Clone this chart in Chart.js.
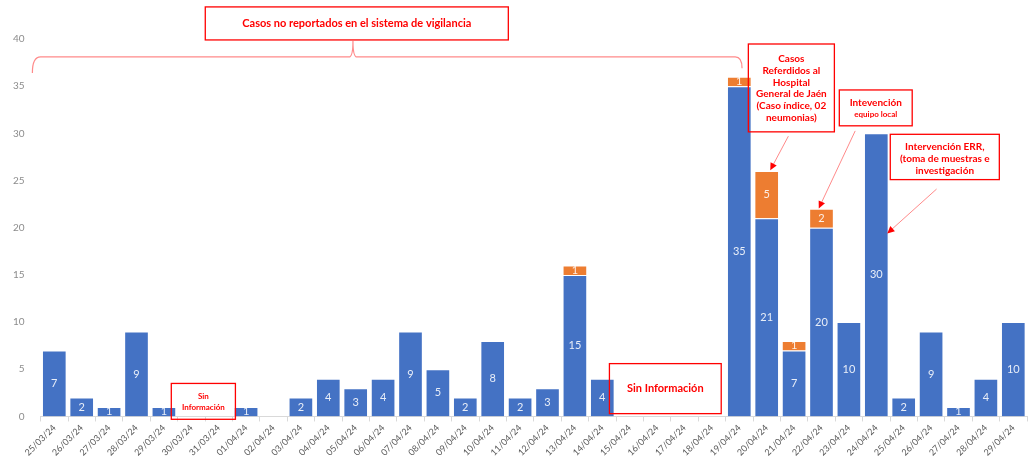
<!DOCTYPE html>
<html>
<head>
<meta charset="utf-8">
<script src="https://cdn.jsdelivr.net/npm/chart.js@4"></script>
<style>
  body { margin: 0; background: #fff; }
  #wrap { width: 1031px; height: 465px; position: relative; }
</style>
</head>
<body>
<div id="wrap"><canvas id="casosChart"></canvas></div>
<script>
// DATOS
const fechas = [
  "25/03/24", "26/03/24", "27/03/24", "28/03/24", "29/03/24", "30/03/24", "31/03/24",
  "01/04/24", "02/04/24", "03/04/24", "04/04/24", "05/04/24", "06/04/24", "07/04/24",
  "08/04/24", "09/04/24", "10/04/24", "11/04/24", "12/04/24", "13/04/24", "14/04/24",
  "15/04/24", "16/04/24", "17/04/24", "18/04/24", "19/04/24", "20/04/24", "21/04/24",
  "22/04/24", "23/04/24", "24/04/24", "25/04/24", "26/04/24", "27/04/24", "28/04/24",
  "29/04/24"
];
const casos = [7, 2, 1, 9, 1, 0, 0, 1, 0, 2, 4, 3, 4, 9, 5, 2, 8, 2, 3, 15, 4, 0, 0, 0, 0, 35, 21, 7, 20, 10, 30, 2, 9, 1, 4, 10];
const referidos = [0, 0, 0, 0, 0, 0, 0, 0, 0, 0, 0, 0, 0, 0, 0, 0, 0, 0, 0, 1, 0, 0, 0, 0, 0, 1, 5, 1, 2, 0, 0, 0, 0, 0, 0, 0];
const yTicks = [0, 5, 10, 15, 20, 25, 30, 35, 40];

const ROJO = "#ff0000";
const ROJO_SUAVE = "rgba(255,60,60,0.6)";

// ETIQUETAS DENTRO DE LAS BARRAS
const etiquetas = {
  id: "etiquetas",
  afterDatasetsDraw(chart) {
    const ctx = chart.ctx;
    ctx.save();
    ctx.font = "11px Lato";
    ctx.fillStyle = "rgba(255,255,255,0.88)";
    ctx.textAlign = "center";
    ctx.textBaseline = "middle";
    chart.data.datasets.forEach((ds, d) => {
      chart.getDatasetMeta(d).data.forEach((bar, i) => {
        const v = ds.data[i];
        if (!v) return;
        ctx.fillText(v, bar.x, (bar.y + bar.base) / 2);
      });
    });
    ctx.restore();
  }
};

// ANOTACIONES (cajas, llave y flechas)
const anotaciones = {
  id: "anotaciones",
  afterDraw(chart) {
    const ctx = chart.ctx;
    const sx = chart.scales.x, sy = chart.scales.y;
    const X = i => sx.getPixelForValue(i);
    const Y = v => sy.getPixelForValue(v);

    function caja(i0, i1, v0, v1, lineas) {
      ctx.strokeStyle = ROJO;
      ctx.lineWidth = 1.3;
      ctx.strokeRect(X(i0), Y(v0), X(i1) - X(i0), Y(v1) - Y(v0));
      ctx.fillStyle = ROJO;
      ctx.textAlign = "center";
      ctx.textBaseline = "middle";
      const cx = (X(i0) + X(i1)) / 2;
      lineas.forEach(l => {
        ctx.font = "bold " + l.size + "px Lato";
        ctx.fillText(l.t, cx, l.y);
      });
    }

    function flecha(i0, v0, i1, v1) {
      const x0 = X(i0), y0 = Y(v0), x1 = X(i1), y1 = Y(v1);
      const a = Math.atan2(y1 - y0, x1 - x0);
      ctx.strokeStyle = ROJO_SUAVE;
      ctx.fillStyle = ROJO;
      ctx.lineWidth = 1;
      ctx.beginPath();
      ctx.moveTo(x0, y0);
      ctx.lineTo(x1 - 6 * Math.cos(a), y1 - 6 * Math.sin(a));
      ctx.stroke();
      ctx.beginPath();
      ctx.moveTo(x1, y1);
      ctx.lineTo(x1 - 8 * Math.cos(a - 0.45), y1 - 8 * Math.sin(a - 0.45));
      ctx.lineTo(x1 - 8 * Math.cos(a + 0.45), y1 - 8 * Math.sin(a + 0.45));
      ctx.closePath();
      ctx.fill();
    }

    ctx.save();

    // llave
    const yl = Y(38.1);
    const xm = X(10.9);
    ctx.strokeStyle = ROJO_SUAVE;
    ctx.lineWidth = 1.2;
    ctx.beginPath();
    ctx.moveTo(X(-0.8), Y(36.4));
    ctx.quadraticCurveTo(X(-0.8), yl, X(-0.5), yl);
    ctx.lineTo(xm - 4, yl);
    ctx.quadraticCurveTo(xm, yl, xm, Y(39.8));
    ctx.quadraticCurveTo(xm, yl, xm + 4, yl);
    ctx.lineTo(X(24.85), yl);
    ctx.quadraticCurveTo(X(25.1), yl, X(25.1), Y(36.9));
    ctx.stroke();

    caja(5.51, 16.57, 43.4, 39.9, [{ t: "Casos no reportados en el sistema de vigilancia", size: 11, y: (Y(43.4) + Y(39.9)) / 2 }]);

    const yR = Y(39.47);
    caja(25.33, 28.47, 39.47, 30.16, [
      { t: "Casos", size: 10, y: yR + 15 },
      { t: "Referdidos al", size: 10, y: yR + 27 },
      { t: "Hospital", size: 10, y: yR + 39 },
      { t: "General de Jaén", size: 10, y: yR + 50 },
      { t: "(Caso índice, 02", size: 10, y: yR + 62 },
      { t: "neumonias)", size: 10, y: yR + 74 }
    ]);
    flecha(26.79, 29.7, 26.13, 26.1);

    const yI = Y(34.6);
    caja(28.65, 31.31, 34.6, 30.8, [
      { t: "Intevención", size: 10, y: yI + 13 },
      { t: "equipo local", size: 8, y: yI + 24 }
    ]);
    flecha(29.23, 30.26, 27.9, 22.05);

    const yE = Y(29.9);
    caja(30.51, 34.49, 29.9, 25.1, [
      { t: "Intervención ERR,", size: 10, y: yE + 12 },
      { t: "(toma de muestras e", size: 10, y: yE + 24 },
      { t: "investigación", size: 10, y: yE + 36 }
    ]);
    flecha(32.2, 24.1, 30.4, 19.4);

    const yS = Y(3.5);
    caja(4.27, 6.61, 3.5, -0.3, [
      { t: "Sin", size: 8, y: yS + 13 },
      { t: "Información", size: 8, y: yS + 24 }
    ]);

    caja(20.26, 24.34, 5.6, 0.3, [{ t: "Sin Información", size: 11, y: (Y(5.6) + Y(0.3)) / 2 }]);

    ctx.restore();
  }
};

// GRÁFICO
new Chart(document.getElementById("casosChart"), {
  type: "bar",
  data: {
    labels: fechas,
    datasets: [
      {
        label: "Casos",
        data: casos,
        backgroundColor: "#4472c4",
        borderColor: "rgba(255,255,255,0.55)",
        borderWidth: 1,
        barPercentage: 1,
        categoryPercentage: 0.9
      },
      {
        label: "Referidos",
        data: referidos,
        backgroundColor: "#ed7d31",
        borderColor: "rgba(255,255,255,0.55)",
        borderWidth: 1,
        barPercentage: 1,
        categoryPercentage: 0.9
      }
    ]
  },
  options: {
    responsive: true,
    maintainAspectRatio: false,
    animation: false,
    layout: { padding: { top: 39, left: 5, right: 4, bottom: 6 } },
    plugins: {
      legend: { display: false },
      tooltip: { enabled: false }
    },
    scales: {
      x: {
        stacked: true,
        grid: { display: true, drawOnChartArea: false, drawTicks: true, tickLength: 5, color: "#d9d9d9" },
        border: { color: "#d9d9d9" },
        ticks: {
          color: "#595959",
          font: { family: "Lato", size: 9 },
          maxRotation: 45,
          minRotation: 45,
          autoSkip: false,
          padding: 1
        }
      },
      y: {
        stacked: true,
        min: 0,
        max: 40,
        grid: { display: false },
        border: { display: false },
        afterBuildTicks: axis => { axis.ticks = yTicks.map(v => ({ value: v })); },
        ticks: {
          color: "#8c8c8c",
          font: { family: "Lato", size: 10 },
          padding: 8
        }
      }
    }
  },
  plugins: [etiquetas, anotaciones]
});
</script>
</body>
</html>
